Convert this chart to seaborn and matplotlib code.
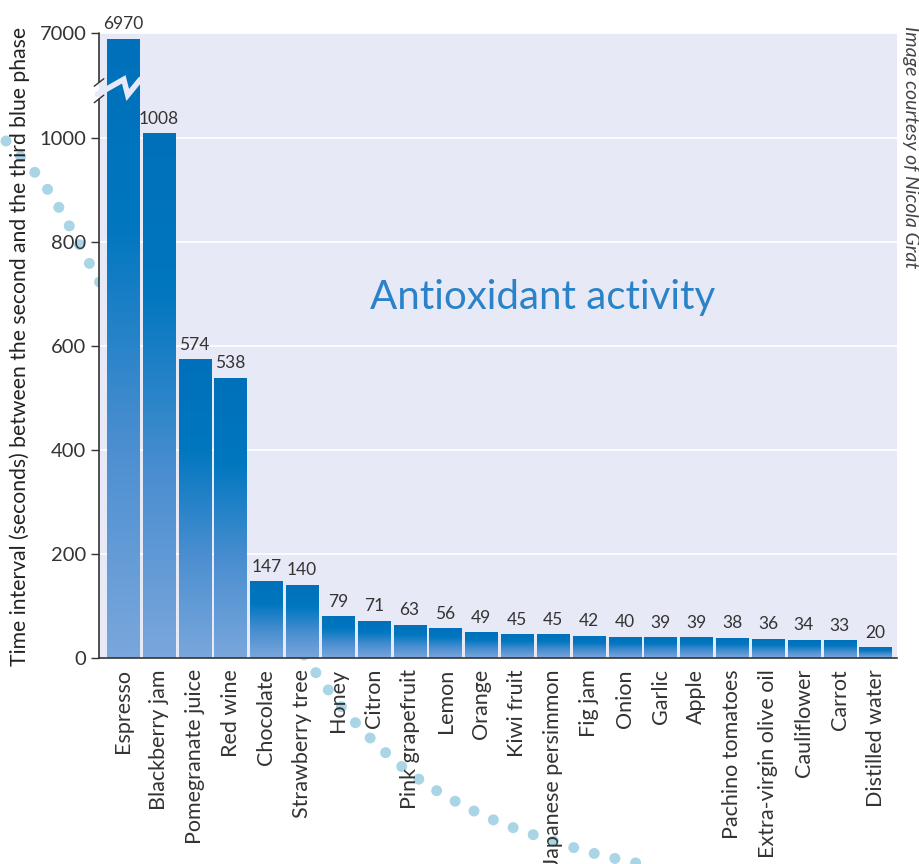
import numpy as np
import matplotlib
matplotlib.use("Agg")
import matplotlib.pyplot as plt
from matplotlib.colors import LinearSegmentedColormap
from matplotlib.lines import Line2D
import seaborn as sns

# ---- data -------------------------------------------------------------
foods = ["Espresso", "Blackberry jam", "Pomegranate juice", "Red wine",
         "Chocolate", "Strawberry tree", "Honey", "Citron", "Pink grapefruit",
         "Lemon", "Orange", "Kiwi fruit", "Japanese persimmon", "Fig jam",
         "Onion", "Garlic", "Apple", "Pachino tomatoes", "Extra-virgin olive oil",
         "Cauliflower", "Carrot", "Distilled water"]
seconds = [6970, 1008, 574, 538, 147, 140, 79, 71, 63, 56, 49, 45, 45, 42,
           40, 39, 39, 38, 36, 34, 33, 20]
ytick_values = [0, 200, 400, 600, 800, 1000, 7000]
ytick_labels = ["0", "200", "400", "600", "800", "1000", "7000"]

# ---- style ------------------------------------------------------------
sns.set_theme(style="white")
plt.rcParams["font.family"] = ["Lato", "DejaVu Sans"]
TXT = "#333333"
PANEL = "#e7eaf6"

# broken y axis: linear up to 1080, squeezed gap, compressed top section
LOW, HIGH, GAP = 1080.0, 6745.0, 20.0
TOP_SLOPE = 0.4


def fwd(v):
    v = np.asarray(v, dtype=float)
    mid = LOW + (v - LOW) * GAP / (HIGH - LOW)
    top = LOW + GAP + (v - HIGH) * TOP_SLOPE
    return np.where(v <= LOW, v, np.where(v <= HIGH, mid, top))


def inv(f):
    f = np.asarray(f, dtype=float)
    mid = LOW + (f - LOW) * (HIGH - LOW) / GAP
    top = HIGH + (f - LOW - GAP) / TOP_SLOPE
    return np.where(f <= LOW, f, np.where(f <= LOW + GAP, mid, top))


def catmull_rom(pts, n=200):
    pts = np.asarray(pts, float)
    ext = np.vstack([pts[0], pts, pts[-1]])
    tt = np.linspace(0, 1, n, endpoint=False)[:, None]
    out = []
    for i in range(1, len(ext) - 2):
        a, b, c, d = ext[i - 1], ext[i], ext[i + 1], ext[i + 2]
        out.append(0.5 * (2 * b + (c - a) * tt + (2 * a - 5 * b + 4 * c - d) * tt ** 2
                          + (-a + 3 * b - 3 * c + d) * tt ** 3))
    out.append(pts[-1][None, :])
    return np.vstack(out)


W, H = 919, 864
fig = plt.figure(figsize=(W / 100, H / 100), dpi=100)
fig.patch.set_facecolor("white")

# decorative dotted arc sweeping behind the plot panel
bg = fig.add_axes([0, 0, 1, 1], zorder=-1)
bg.set_xlim(0, W)
bg.set_ylim(H, 0)
bg.axis("off")
guide = [(-8, 124), (6, 141), (48, 190), (99, 281), (200, 468), (304, 655),
         (386, 753), (474, 811), (575, 848), (650, 866)]
curve = catmull_rom(guide)
seg = np.r_[0, np.cumsum(np.hypot(*np.diff(curve, axis=0).T))]
# arc length at the guide points (1) and (5)
idx = [np.argmin(np.hypot(curve[:, 0] - guide[k][0], curve[:, 1] - guide[k][1])) for k in (1, 5)]
s1, s5 = seg[idx[0]], seg[idx[1]]
step = (s5 - s1) / round((s5 - s1) / 21.0)
marks = s1 + step * np.arange(-1, int((seg[-1] - s1) / step) + 1)
marks = marks[(marks >= 0) & (marks <= seg[-1])]
dx = np.interp(marks, seg, curve[:, 0])
dy = np.interp(marks, seg, curve[:, 1])
bg.scatter(dx, dy, s=62, color="#a9d5e6", edgecolor="none", clip_on=False)

# main panel
L, R, B, T = 99, 897, 658, 33
ax = fig.add_axes([L / W, (H - B) / H, (R - L) / W, (B - T) / H])
ax.set_facecolor(PANEL)

sns.barplot(x=foods, y=seconds, ax=ax, width=0.9, color="#0073bd",
            saturation=1, edgecolor="none", zorder=2)
ax.set_yscale("function", functions=(fwd, inv))
ax.set_ylim(0, 7000)
ax.set_xlim(-0.67, 21.6)

ax.set_yticks(ytick_values)
ax.set_yticklabels(ytick_labels)
ax.yaxis.grid(True, color="white", linewidth=1.2)
ax.set_axisbelow(True)
ax.tick_params(axis="y", length=6, width=1.0, color="#333333", pad=3,
               labelsize=14.5, labelcolor=TXT, left=True)
ax.tick_params(axis="x", length=0, pad=8, labelsize=15.5, labelcolor=TXT)
plt.setp(ax.get_xticklabels(), rotation=90, ha="center", va="top")
ax.set_xlabel("")
ax.set_ylabel("")

for side in ["top", "right", "left"]:
    ax.spines[side].set_visible(False)
ax.spines["bottom"].set_color("#333333")
ax.spines["bottom"].set_linewidth(1.2)
ax.spines["bottom"].set_zorder(5)

# left spine drawn in two pieces around the break
ftop = float(fwd(7000))
brk_lo = float(fwd(LOW)) / ftop - 0.004
brk_hi = float(fwd(LOW + 0.5 * (HIGH - LOW))) / ftop + 0.014
for y0, y1 in [(0, brk_lo), (brk_hi, 1)]:
    ax.add_line(Line2D([0, 0], [y0, y1], transform=ax.transAxes, color="#333333",
                       lw=1.2, clip_on=False, zorder=5))
for yy in [brk_lo, brk_hi]:
    ax.add_line(Line2D([-0.006, 0.006], [yy - 0.006, yy + 0.006], transform=ax.transAxes,
                       color="#333333", lw=1.0, clip_on=False, zorder=5))

# vertical gradient fill on every bar
grad_cmap = LinearSegmentedColormap.from_list(
    "bar_grad", [(0.0, "#0070ba"), (0.3, "#0077c0"), (0.65, "#4a8ed0"), (1.0, "#7aa7dc")])
grad = np.linspace(0, 1, 256)[:, None]
to_axes = ax.transAxes.inverted()
for patch in ax.patches:
    bb = patch.get_window_extent()
    (x0, y0), (x1, y1) = to_axes.transform([[bb.x0, bb.y0], [bb.x1, bb.y1]])
    ax.imshow(grad, extent=(x0, x1, y0, y1), transform=ax.transAxes, aspect="auto",
              cmap=grad_cmap, vmin=0, vmax=1, origin="upper", zorder=2.5,
              interpolation="bilinear")
    patch.set_visible(False)
ax.set_xlim(-0.67, 21.6)
ax.set_ylim(0, 7000)

# white zig-zag marking the cut in the tallest bar
zig_y = float(fwd(LOW + 0.5 * (HIGH - LOW))) / ftop
ax.add_line(Line2D([-0.002, 0.031, 0.036, 0.052],
                   [zig_y - 0.005, zig_y + 0.019, zig_y - 0.006, zig_y + 0.019],
                   transform=ax.transAxes, color=PANEL, lw=4.0, solid_joinstyle="miter",
                   zorder=4, clip_on=False))

# value labels
ax.bar_label(ax.containers[0], labels=[str(v) for v in seconds], padding=5,
             fontsize=12.5, color=TXT)

# annotations
ax.text(0.556, 0.577, "Antioxidant activity", transform=ax.transAxes, ha="center",
        va="center", fontsize=29, color="#2a83c8")
fig.text(20 / W, (H - 346) / H,
         "Time interval (seconds) between the second and the third blue phase",
         rotation=90, ha="center", va="center", fontsize=15.2, color="#222222")
fig.text(911 / W, (H - 147) / H, "Image courtesy of Nicola Grat", rotation=-90,
         ha="center", va="center", fontsize=14, style="italic", color="#444444")

fig.savefig("out.png", dpi=100, facecolor="white")
